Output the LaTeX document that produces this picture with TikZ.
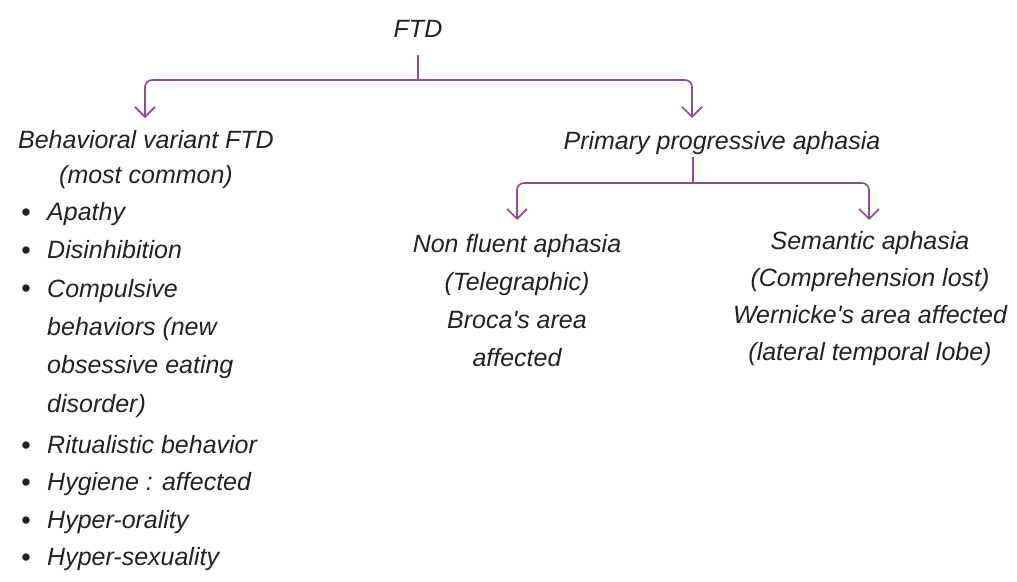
\documentclass[tikz,border=0pt]{standalone}
\usepackage{fontspec}
\setmainfont{Liberation Sans}[Ligatures=TeXOff]
\usetikzlibrary{arrows.meta}
\definecolor{plum}{HTML}{8E4C8E}
\definecolor{ink}{HTML}{222222}
\begin{document}
\begin{tikzpicture}[x=1pt,y=-1pt,
  txt/.style={font=\itshape\fontsize{25}{38}\selectfont, text=ink, inner sep=0pt, align=center},
  item/.style={txt, align=left, anchor=mid west, font=\itshape\fontsize{25}{38.3}\selectfont},
  dot/.style={font=\fontsize{27}{30}\selectfont, text=ink, inner sep=0pt, anchor=mid},
  conn/.style={draw=plum, line width=1.6pt, rounded corners=7pt},
  tip/.style={-{Straight Barb[length=10pt,width=20pt,line width=1.6pt]}}]
\useasboundingbox[fill=white] (0,0) rectangle (1017,581);

% nodes
\node[txt] (ftd) at (418,29) {FTD};
\node[txt, font=\itshape\fontsize{25}{35}\selectfont] (bv) at (146,160) {Behavioral variant FTD\\(most common)};
\node[txt] (ppa) at (722,143) {Primary progressive aphasia};
\node[txt] (nfa) at (517,301) {Non fluent aphasia\\(Telegraphic)\\Broca's area\\affected};
\node[txt, font=\itshape\fontsize{25}{37}\selectfont] (sa) at (870,299) {Semantic aphasia\\(Comprehension lost)\\Wernicke's area affected\\(lateral temporal lobe)};

% bullet list
\node[dot] (b1) at (26,219) {•};
\node[item] (i1) at (47,218) {Apathy};
\node[dot] (b2) at (26,257) {•};
\node[item] (i2) at (47,256) {Disinhibition};
\node[dot] (b3) at (26,295) {•};
\node[item, anchor=north west] (i3) at (47,279) {Compulsive\\behaviors (new\\obsessive eating\\disorder)};
\node[dot] (b4) at (26,452) {•};
\node[item] (i4) at (47,451) {Ritualistic behavior};
\node[dot] (b5) at (26,489) {•};
\node[item] (i5) at (47,488) {Hygiene : affected};
\node[dot] (b6) at (26,527) {•};
\node[item] (i6) at (47,526) {Hyper-orality};
\node[dot] (b7) at (26,564) {•};
\node[item] (i7) at (47,563) {Hyper-sexuality};

% connector points
\coordinate (j1) at (418,80);
\coordinate (bvin) at (145,118);
\coordinate (ppain) at (692,118);
\coordinate (j2) at (693,183);
\coordinate (nfain) at (517,220);
\coordinate (sain) at (869,220);

\draw[conn] ([yshift=-17pt]ftd.south) -- (j1);
\draw[conn,tip] (j1) -| (bvin);
\draw[conn,tip] (j1) -| (ppain);
\draw[conn] ([yshift=-2pt]ppa.south -| j2) -- (j2);
\draw[conn,tip] (j2) -| (nfain);
\draw[conn,tip] (j2) -| (sain);
\end{tikzpicture}
\end{document}
